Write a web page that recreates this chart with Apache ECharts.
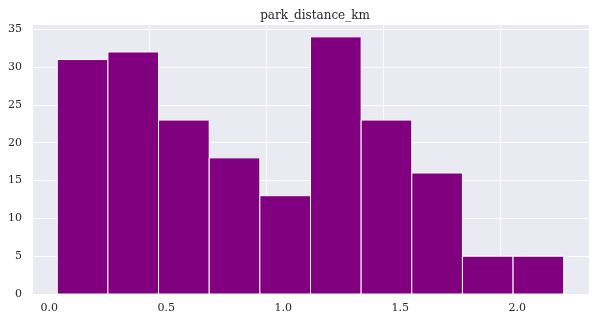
<!DOCTYPE html>
<html><head><meta charset="utf-8">
<script src="https://cdn.jsdelivr.net/npm/echarts@6/dist/echarts.min.js"></script>
<style>html,body{margin:0;padding:0;background:#fff}#c{width:596px;height:321px}</style>
</head><body><div id="c"></div>
<script>
const binStart = 0.034;
const binWidth = 0.2165;
const counts = [31, 32, 23, 18, 13, 34, 23, 16, 5, 5];
const xTicks = [0.0, 0.5, 1.0, 1.5, 2.0];
const yTicks = [0, 5, 10, 15, 20, 25, 30, 35];
const titleText = 'park_distance_km';

const data = counts.map((c, i) => [binStart + i * binWidth, binStart + (i + 1) * binWidth, c]);
const font = '"DejaVu Serif", serif';
const chart = echarts.init(document.getElementById('c'));
chart.setOption({
  animation: false,
  title: { text: titleText, left: 310, top: 5, textAlign: 'center',
    textStyle: { fontFamily: font, fontSize: 12, fontWeight: 'normal', color: '#262626' } },
  grid: { left: 32, right: 7, top: 24, bottom: 27, show: true, backgroundColor: '#EAEAF2', borderWidth: 0 },
  xAxis: { type: 'value', min: -0.074, max: 2.307, interval: 0.5,
    axisLine: { show: false }, axisTick: { show: false },
    splitLine: { show: true, lineStyle: { color: '#fff', width: 1 } },
    axisLabel: { fontFamily: font, fontSize: 11, color: '#262626', margin: 9,
      customValues: xTicks, formatter: v => v.toFixed(1) } },
  yAxis: { type: 'value', min: 0, max: 35.7, interval: 5,
    axisLine: { show: false }, axisTick: { show: false },
    splitLine: { show: true, lineStyle: { color: '#fff', width: 1 } },
    axisLabel: { fontFamily: font, fontSize: 11, color: '#262626', margin: 10,
      customValues: yTicks, formatter: v => String(v) } },
  series: [{
    type: 'custom',
    data: data,
    renderItem: (params, api) => {
      const p0 = api.coord([api.value(0), api.value(2)]);
      const p1 = api.coord([api.value(1), 0]);
      return { type: 'rect', shape: { x: p0[0], y: p0[1], width: p1[0] - p0[0], height: p1[1] - p0[1] },
        style: { fill: '#800080', stroke: '#ffffff', lineWidth: 1 } };
    }
  }]
});
</script></body></html>
